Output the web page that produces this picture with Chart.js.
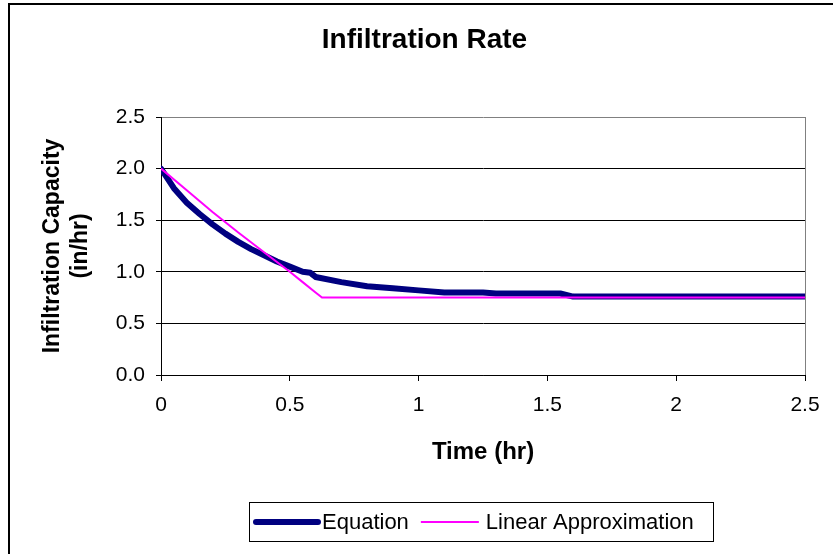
<!DOCTYPE html>
<html><head><meta charset="utf-8">
<script src="https://cdn.jsdelivr.net/npm/chart.js@4/dist/chart.umd.min.js"></script>
<style>html,body{margin:0;padding:0;background:#fff}#wrap{width:833px;height:554px;position:relative}</style>
</head><body><div id="wrap"><canvas id="c" width="833" height="554"></canvas></div>
<script>
const chartTitle = 'Infiltration Rate';
const xAxisTitle = 'Time (hr)';
const yAxisTitle = ['Infiltration Capacity', '(in/hr)'];
const seriesNames = ['Equation', 'Linear Approximation'];
const equationTime = [0, 0.05, 0.1, 0.15, 0.2, 0.25, 0.3, 0.35, 0.4, 0.45, 0.5, 0.55, 0.58, 0.6, 0.7, 0.8, 0.9, 1.0, 1.1, 1.25, 1.3, 1.55, 1.6, 2.5];
const equationRate = [2.0, 1.81, 1.67, 1.56, 1.46, 1.37, 1.29, 1.22, 1.16, 1.10, 1.05, 1.0, 0.99, 0.95, 0.90, 0.86, 0.84, 0.82, 0.80, 0.80, 0.79, 0.79, 0.76, 0.76];
const linearTime = [0, 0.1, 0.2, 0.3, 0.4, 0.5, 0.55, 0.6, 0.625, 2.5];
const linearRate = [2.0, 1.79, 1.58, 1.38, 1.19, 1.0, 0.90, 0.80, 0.75, 0.75];
const xTickValues = [0, 0.5, 1, 1.5, 2, 2.5];
const yTickValues = [0, 0.5, 1.0, 1.5, 2.0, 2.5];

const FONT = 'Liberation Sans';
const toPoints = (xs, ys) => xs.map((x, i) => ({x: x, y: ys[i]}));

const frame = {
  id: 'frame',
  beforeDraw(chart) {
    const ctx = chart.ctx;
    ctx.save();
    ctx.fillStyle = '#fff';
    ctx.fillRect(0, 0, chart.width, chart.height);
    ctx.strokeStyle = '#000';
    ctx.lineWidth = 2;
    ctx.beginPath();
    ctx.moveTo(9, chart.height);
    ctx.lineTo(9, 4);
    ctx.lineTo(chart.width, 4);
    ctx.stroke();
    ctx.restore();
  },
  beforeDatasetsDraw(chart) {
    const a = chart.chartArea, ctx = chart.ctx;
    ctx.save();
    ctx.strokeStyle = '#808080';
    ctx.lineWidth = 1;
    ctx.beginPath();
    ctx.moveTo(Math.round(a.right) + 0.5, a.top);
    ctx.lineTo(Math.round(a.right) + 0.5, a.bottom);
    ctx.stroke();
    ctx.restore();
  }
};

const boxLegend = {
  id: 'boxLegend',
  afterDraw(chart) {
    const ctx = chart.ctx;
    ctx.save();
    ctx.strokeStyle = '#000';
    ctx.lineWidth = 1;
    ctx.strokeRect(249.5, 502.5, 464, 39);
    ctx.font = '22px "' + FONT + '"';
    ctx.textBaseline = 'middle';
    ctx.fillStyle = '#000';
    let x = 256;
    const cy = 522;
    const lens = [62, 58];
    const gapsAfterLine = [4, 7];
    chart.data.datasets.forEach((ds, i) => {
      ctx.beginPath();
      ctx.strokeStyle = ds.borderColor;
      ctx.lineWidth = ds.borderWidth;
      ctx.lineCap = i === 0 ? 'round' : 'butt';
      ctx.moveTo(x, cy);
      ctx.lineTo(x + lens[i], cy);
      ctx.stroke();
      x += lens[i] + gapsAfterLine[i];
      ctx.fillText(ds.label, x, cy + 1);
      x += ctx.measureText(ds.label).width + 12;
    });
    ctx.restore();
  }
};

new Chart(document.getElementById('c'), {
  type: 'line',
  data: {
    datasets: [
      {label: seriesNames[0], order: 1, data: toPoints(equationTime, equationRate), borderColor: '#000080', backgroundColor: '#000080', borderWidth: 6, pointRadius: 0, tension: 0, borderJoinStyle: 'round', borderCapStyle: 'round'},
      {label: seriesNames[1], order: 0, data: toPoints(linearTime, linearRate), borderColor: '#FF00FF', backgroundColor: '#FF00FF', borderWidth: 2, pointRadius: 0, tension: 0}
    ]
  },
  options: {
    responsive: false,
    animation: false,
    devicePixelRatio: 1,
    layout: {padding: {left: 44, right: 28, top: 0, bottom: 79}},
    plugins: {
      legend: {display: false},
      tooltip: {enabled: false},
      title: {display: true, text: chartTitle, color: '#000', font: {family: FONT, size: 28, weight: 'bold', lineHeight: 1.2}, padding: {top: 23.2, bottom: 60.2}}
    },
    scales: {
      x: {
        type: 'linear', min: 0, max: 2.5,
        afterBuildTicks: s => { s.ticks = xTickValues.map(v => ({value: v})); },
        afterFit: s => { s.height = 100; },
        ticks: {color: '#000', font: {family: FONT, size: 21}, padding: 12, maxRotation: 0, callback: v => String(v)},
        grid: {drawOnChartArea: false, drawTicks: true, tickLength: 6, color: '#000'},
        border: {color: '#000', width: 1},
        title: {display: true, text: xAxisTitle, color: '#000', font: {family: FONT, size: 24, weight: 'bold', lineHeight: 1.2}, padding: {top: 0, bottom: 8}}
      },
      y: {
        type: 'linear', min: 0, max: 2.5,
        afterBuildTicks: s => { s.ticks = yTickValues.map(v => ({value: v})); },
        afterFit: s => { s.width = 117; },
        ticks: {color: '#000', font: {family: FONT, size: 21}, padding: 11, callback: v => Number(v).toFixed(1)},
        grid: {drawTicks: true, tickLength: 5, color: ctx => (ctx.tick && ctx.tick.value === 2.5) ? '#808080' : '#000', tickColor: '#000'},
        border: {color: '#000', width: 1},
        title: {display: true, text: yAxisTitle, color: '#000', font: {family: FONT, size: 23, weight: 'bold', lineHeight: 1.2}, padding: {top: -4.8, bottom: 0}}
      }
    }
  },
  plugins: [frame, boxLegend]
});
</script>
</body></html>
